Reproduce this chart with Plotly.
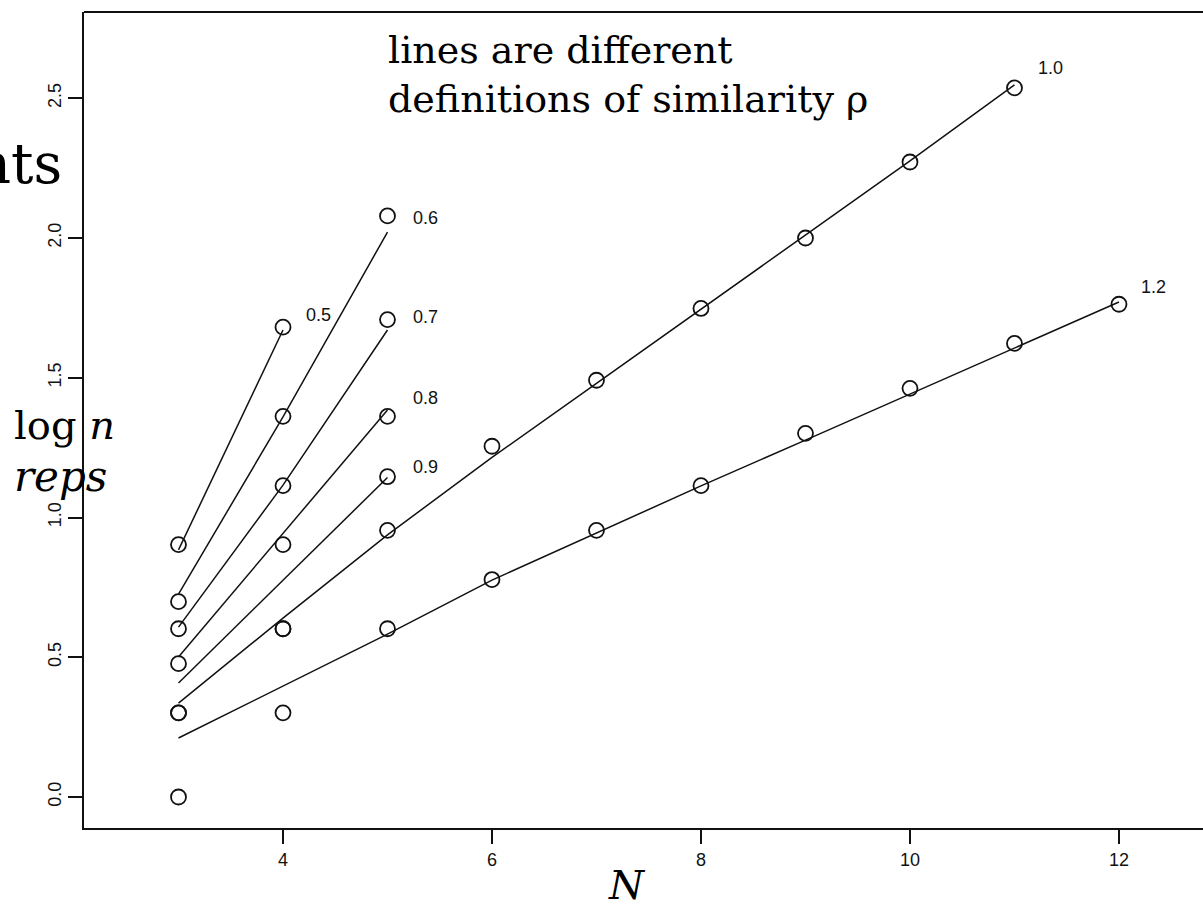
import plotly.graph_objects as go

# ---------------- data ----------------
# observed log10(n reps) per similarity definition rho
rho_labels = ["0.5", "0.6", "0.7", "0.8", "0.9", "1.0", "1.2"]

obs_N = {
    "0.5": [3, 4],
    "0.6": [3, 4, 5],
    "0.7": [3, 4, 5],
    "0.8": [3, 4, 5],
    "0.9": [3, 4, 5],
    "1.0": [3, 4, 5, 6, 7, 8, 9, 10, 11],
    "1.2": [3, 4, 5, 6, 7, 8, 9, 10, 11, 12],
}
obs_y = {
    "0.5": [0.903, 1.681],
    "0.6": [0.699, 1.362, 2.079],
    "0.7": [0.602, 1.114, 1.708],
    "0.8": [0.477, 0.903, 1.362],
    "0.9": [0.301, 0.602, 1.146],
    "1.0": [0.301, 0.602, 0.954, 1.255, 1.491, 1.748, 2.000, 2.272, 2.537],
    "1.2": [0.000, 0.301, 0.602, 0.778, 0.954, 1.114, 1.301, 1.462, 1.623, 1.763],
}

# fitted lines
fit_y = {
    "0.5": [0.884, 1.671],
    "0.6": [0.726, 1.360, 2.021],
    "0.7": [0.608, 1.116, 1.671],
    "0.8": [0.501, 0.945, 1.385],
    "0.9": [0.408, 0.775, 1.143],
    "1.0": [0.336, 0.640, 0.938, 1.215, 1.480, 1.745, 2.008, 2.276, 2.548],
    "1.2": [0.211, 0.397, 0.583, 0.776, 0.945, 1.113, 1.277, 1.442, 1.606, 1.771],
}

# positions of the rho labels (data units)
label_x = [4.335, 5.36, 5.36, 5.36, 5.36, 11.34, 12.335]
label_y = [1.725, 2.07, 1.717, 1.426, 1.181, 2.608, 1.825]

x_ticks = [4, 6, 8, 10, 12]
y_ticks = [0.0, 0.5, 1.0, 1.5, 2.0, 2.5]
y_ticktext = ["0.0", "0.5", "1.0", "1.5", "2.0", "2.5"]

# ---------------- figure ----------------
W, H = 1203, 923
ML, MR, MT, MB = 84, 0, 12, 95
PW, PH = W - ML - MR, H - MT - MB

fig = go.Figure()

for r in rho_labels:
    fig.add_trace(go.Scatter(
        x=obs_N[r], y=fit_y[r], mode="lines",
        line=dict(color="#111111", width=1.5),
        hoverinfo="skip", showlegend=False))

for r in rho_labels:
    fig.add_trace(go.Scatter(
        x=obs_N[r], y=obs_y[r], mode="markers",
        marker=dict(symbol="circle-open", size=15, color="#111111",
                    line=dict(width=1.8, color="#111111")),
        showlegend=False))

tick_font = dict(family="Liberation Sans, Arial, sans-serif", size=18, color="#111111")

for t, lx, ly in zip(rho_labels, label_x, label_y):
    fig.add_annotation(x=lx, y=ly, xref="x", yref="y", text=t, showarrow=False,
                       font=tick_font, xanchor="center", yanchor="middle")


def px(xp):
    return (xp - ML) / PW


def py(yp):
    return (H - MB - yp) / PH


big = "DejaVu Serif, serif"
fig.add_annotation(x=px(386), y=py(50), xref="paper", yref="paper",
                   text="lines are different", showarrow=False,
                   xanchor="left", yanchor="middle",
                   font=dict(family=big, size=38, color="#000000"))
fig.add_annotation(x=px(386), y=py(99), xref="paper", yref="paper",
                   text="definitions of similarity ρ", showarrow=False,
                   xanchor="left", yanchor="middle",
                   font=dict(family=big, size=38, color="#000000"))
fig.add_annotation(x=px(12), y=py(425), xref="paper", yref="paper",
                   text="log <i>n</i>", showarrow=False,
                   xanchor="left", yanchor="middle",
                   font=dict(family=big, size=40, color="#000000"))
fig.add_annotation(x=px(12), y=py(476), xref="paper", yref="paper",
                   text="<i>reps</i>", showarrow=False,
                   xanchor="left", yanchor="middle",
                   font=dict(family=big, size=42, color="#000000"))
fig.add_annotation(x=px(64), y=py(163), xref="paper", yref="paper",
                   text="nts", showarrow=False,
                   xanchor="right", yanchor="middle",
                   font=dict(family=big, size=56, color="#000000"))
fig.add_annotation(x=px(627), y=py(885), xref="paper", yref="paper",
                   text="<i>N</i>", showarrow=False,
                   xanchor="center", yanchor="middle",
                   font=dict(family=big, size=40, color="#000000"))

# top frame line (right side of frame is off-screen)
fig.add_shape(type="line", xref="paper", yref="paper", x0=0, x1=1, y0=1, y1=1,
              line=dict(color="#111111", width=2))

fig.update_xaxes(range=[2.0957, 12.804], tickvals=x_ticks,
                 ticks="outside", ticklen=14, tickwidth=1.5, tickcolor="#111111",
                 showline=True, linecolor="#111111", linewidth=2,
                 showgrid=False, zeroline=False, tickfont=tick_font)
fig.update_yaxes(range=[-0.1109, 2.8086], tickvals=y_ticks, ticktext=y_ticktext,
                 tickangle=-90,
                 ticks="outside", ticklen=14, tickwidth=1.5, tickcolor="#111111",
                 showline=True, linecolor="#111111", linewidth=2,
                 showgrid=False, zeroline=False, tickfont=tick_font)

fig.update_layout(width=W, height=H,
                  margin=dict(l=ML, r=MR, t=MT, b=MB),
                  plot_bgcolor="white", paper_bgcolor="white",
                  showlegend=False)

fig.write_html("out.html")
